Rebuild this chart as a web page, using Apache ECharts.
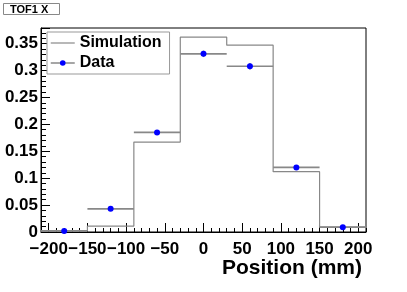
<!DOCTYPE html>
<html>
<head>
<meta charset="utf-8">
<script src="https://cdn.jsdelivr.net/npm/echarts@6/dist/echarts.min.js"></script>
<style>
html,body{margin:0;padding:0;background:#fff;}
#chart{width:407px;height:292px;}
</style>
</head>
<body>
<div id="chart"></div>
<script>
// ---- data ----
const binEdges = [-210, -150, -90, -30, 30, 90, 150, 210];
const simValues = [0.002, 0.011, 0.167, 0.362, 0.347, 0.112, 0.009];
const dataValues = [0.002, 0.043, 0.185, 0.331, 0.308, 0.120, 0.009];
const dataErrors = [0.001, 0.002, 0.004, 0.006, 0.006, 0.003, 0.001];
const xTickLabels = [-200, -150, -100, -50, 0, 50, 100, 150, 200];
const yMax = 0.379;

const FONT = '"Liberation Sans", Arial, Helvetica, sans-serif';

// histogram step line from edges
const simLine = binEdges.map((e, i) => [e, simValues[Math.min(i, simValues.length - 1)]]);
const centers = dataValues.map((v, i) => (binEdges[i] + binEdges[i + 1]) / 2);
const dataPoints = dataValues.map((v, i) => [centers[i], v]);
const errData = dataValues.map((v, i) => [binEdges[i], binEdges[i + 1], centers[i], v, dataErrors[i]]);

const chart = echarts.init(document.getElementById('chart'), null, {renderer: 'canvas'});
chart.setOption({
  animation: false,
  backgroundColor: '#fff',
  title: {
    text: 'TOF1 X', left: 3, top: 3,
    padding: [1, 11, 0, 7],
    borderColor: '#888', borderWidth: 1,
    textStyle: {fontSize: 11, fontWeight: 'bold', fontFamily: FONT, color: '#000'}
  },
  legend: {
    orient: 'vertical', left: 47, top: 32,
    backgroundColor: '#fff', borderColor: '#999', borderWidth: 1,
    padding: [3, 8, 3, 3], itemGap: 4, itemWidth: 24, itemHeight: 7,
    textStyle: {fontSize: 16, fontWeight: 'bold', fontFamily: FONT, color: '#000'},
    data: [
      {name: 'Simulation', itemStyle: {opacity: 0}, lineStyle: {color: '#888', width: 1.2}},
      {name: 'Data', lineStyle: {color: '#888', width: 1.5, opacity: 1}}
    ]
  },
  grid: {
    left: 41, right: 41, top: 28, bottom: 60,
    outerBoundsMode: 'none', containLabel: false,
    show: true, borderColor: '#000', borderWidth: 1, backgroundColor: 'transparent'
  },
  xAxis: [
    {
      type: 'value', min: -210, max: 210, interval: 10, position: 'bottom',
      axisLine: {onZero: false, lineStyle: {color: '#000', width: 1}},
      axisTick: {inside: true, length: 4, lineStyle: {color: '#000'}},
      axisLabel: {show: false},
      splitLine: {show: false}
    },
    {
      type: 'value', min: -210, max: 210, position: 'bottom',
      axisLine: {show: false, onZero: false},
      axisTick: {inside: true, length: 9, customValues: xTickLabels, lineStyle: {color: '#000'}},
      axisLabel: {
        customValues: xTickLabels, margin: 9, hideOverlap: false,
        fontSize: 17, fontWeight: 'bold', fontFamily: FONT, color: '#000',
        formatter: v => String(v).replace('-', '\u2212')
      },
      splitLine: {show: false},
      name: 'Position (mm)', nameLocation: 'end', nameGap: -144,
      nameTextStyle: {
        fontSize: 21, fontWeight: 'bold', fontFamily: FONT, color: '#000',
        verticalAlign: 'top', padding: [26, 0, 0, 0]
      }
    }
  ],
  yAxis: {
    type: 'value', min: 0, max: yMax, interval: 0.05,
    axisLine: {onZero: false, lineStyle: {color: '#000', width: 1}},
    axisTick: {inside: true, length: 9, lineStyle: {color: '#000'}},
    minorTick: {show: true, splitNumber: 5, length: 5, lineStyle: {color: '#000'}},
    axisLabel: {
      margin: 3, fontSize: 17, fontWeight: 'bold', fontFamily: FONT, color: '#000',
      showMaxLabel: false
    },
    splitLine: {show: false},
    minorSplitLine: {show: false}
  },
  series: [
    {
      name: 'Simulation', type: 'line', step: 'end', xAxisIndex: 0,
      data: simLine, symbol: 'none',
      lineStyle: {color: '#888', width: 1.2},
      itemStyle: {color: '#888'},
      z: 2
    },
    {
      name: 'DataErr', type: 'custom', xAxisIndex: 0,
      data: errData,
      encode: {x: [0, 1, 2], y: 3},
      renderItem: function (params, api) {
        const xl = api.value(0), xr = api.value(1), xc = api.value(2);
        const y = api.value(3), e = api.value(4);
        const pl = api.coord([xl, y]), pr = api.coord([xr, y]);
        const pt = api.coord([xc, y + e]), pb = api.coord([xc, y - e]);
        return {
          type: 'group',
          children: [
            {type: 'line', shape: {x1: pl[0], y1: pl[1], x2: pr[0], y2: pr[1]},
             style: {stroke: '#888', lineWidth: 1.6}},
            {type: 'line', shape: {x1: pt[0], y1: pt[1], x2: pb[0], y2: pb[1]},
             style: {stroke: '#888', lineWidth: 1.6}}
          ]
        };
      },
      z: 3
    },
    {
      name: 'Data', type: 'line', xAxisIndex: 0,
      data: dataPoints, symbol: 'circle', symbolSize: 6, showSymbol: true,
      lineStyle: {opacity: 0},
      itemStyle: {color: '#0000ff'},
      z: 4
    }
  ]
});
</script>
</body>
</html>
